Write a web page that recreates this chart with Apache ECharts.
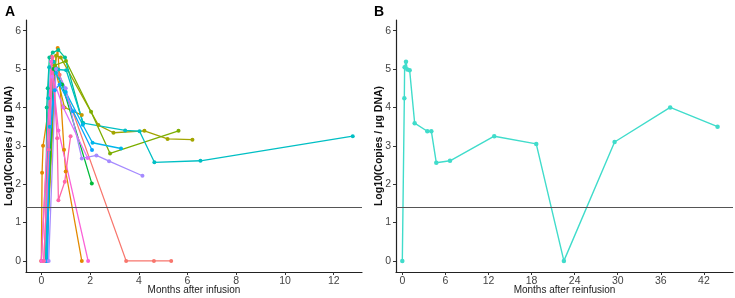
<!DOCTYPE html>
<html>
<head>
<meta charset="utf-8">
<script src="https://cdn.jsdelivr.net/npm/echarts@6/dist/echarts.min.js"></script>
<style>
html,body{margin:0;padding:0;background:#fff}
#main{width:735px;height:298px}
</style>
</head>
<body>
<div id="main"></div>
<script>
// panel A : months after infusion, log10 copies per patient
var p1 = [[0,0],[0.43,5.32],[0.75,4.85],[3.48,0],[4.62,0],[5.33,0]];
var p2 = [[0,0],[0.03,2.3],[0.07,3.0],[0.67,5.55],[0.93,2.9],[1.0,2.33],[1.66,0]];
var p3 = [[0.2,0],[0.55,5.05],[0.95,4.0],[1.66,3.8]];
var p4 = [[0.2,0],[0.6,5.35],[0.8,5.3],[2.34,3.54],[2.96,3.34],[4.23,3.39],[5.18,3.18],[6.2,3.16]];
var p5 = [[0.2,0],[0.55,5.1],[1.01,5.21],[2.04,3.89],[2.82,2.8],[5.63,3.39]];
var p6 = [[0.2,0],[0.5,5.0],[0.85,4.6],[2.07,2.02]];
var p7 = [[0.18,0],[0.22,4.0],[0.26,4.5],[0.33,5.3],[0.47,5.43],[0.7,5.5],[0.97,5.3],[1.7,3.6]];
var p8 = [[0.2,0],[0.28,4.24],[0.32,5.05],[0.51,5.19],[0.7,4.99],[1.02,4.97],[1.72,3.59],[3.44,3.4],[4.03,3.38],[4.64,2.57],[6.53,2.61],[12.78,3.25]];
var p9 = [[0.25,0],[0.35,3.5],[0.6,4.9],[1.0,4.4],[1.7,3.55],[2.1,3.08],[3.27,2.93]];
var p10 = [[0.25,0],[0.3,2.9],[0.55,4.45],[0.75,4.6],[1.3,3.9],[2.08,2.89]];
var p11 = [[0.3,0],[0.6,5.0],[1.0,4.5],[1.66,2.67],[2.26,2.75],[2.78,2.6],[4.15,2.22]];
var p12 = [[0.1,0],[0.45,4.8],[0.9,4.0],[1.9,2.68]];
var p13 = [[0,0],[0.4,5.2],[0.7,3.4],[1.92,0]];
var p14 = [[0.1,0],[0.3,2.9],[0.45,5.3],[0.65,3.2],[0.7,1.58],[0.96,2.06],[1.2,3.25]];
var patientsA = [p1,p2,p3,p4,p5,p6,p7,p8,p9,p10,p11,p12,p13,p14];

// panel B : months after reinfusion
var monthsB = [0,0.28,0.32,0.51,0.7,1.02,1.72,3.48,4.04,4.73,6.64,12.8,18.65,22.5,29.56,37.3,43.9];
var valuesB = [0,4.24,5.05,5.19,4.99,4.97,3.59,3.38,3.38,2.56,2.61,3.25,3.05,0,3.1,4.0,3.5];

var threshold = 1.4;
var ticksA = [0,2,4,6,8,10,12];
var ticksB = [0,6,12,18,24,30,36,42];
var ticksY = [0,1,2,3,4,5,6];

var colors = ["#F8766D","#E38900","#C49A00","#A3A500","#7CAE00","#00BA38","#00C094","#00BFC4","#00B6EB","#06A4FF","#A58AFF","#DF70F8","#FB61D7","#FF66A8"];

var mychart = echarts.init(document.getElementById('main'));

function xAx(idx,name,mn,mx,ticks){
	return {
		type:'value',gridIndex:idx,min:mn,max:mx,
		name:name,nameLocation:'middle',nameGap:13,nameMoveOverlap:false,
		nameTextStyle:{color:'#222',fontSize:10,fontFamily:'Liberation Sans'},
		splitLine:{show:false},
		axisLine:{onZero:false,lineStyle:{color:'#222',width:1.2}},
		axisTick:{length:3,lineStyle:{color:'#333'},customValues:ticks},
		axisLabel:{color:'#444',fontSize:10.5,margin:4,fontFamily:'Liberation Sans',customValues:ticks}
	};
}
function yAx(idx){
	return {
		type:'value',gridIndex:idx,min:-0.29,max:6.28,
		name:'Log10(Copies / μg DNA)',nameLocation:'middle',nameGap:11,nameMoveOverlap:false,
		nameTextStyle:{color:'#111',fontSize:10.5,fontWeight:'bold',fontFamily:'Liberation Sans'},
		splitLine:{show:false},
		axisLine:{show:true,onZero:false,lineStyle:{color:'#222',width:1.2}},
		axisTick:{show:true,length:3,lineStyle:{color:'#333'},customValues:ticksY},
		axisLabel:{color:'#444',fontSize:10.5,margin:5,fontFamily:'Liberation Sans',customValues:ticksY}
	};
}
var hline = {
	silent:true,symbol:'none',
	label:{show:false},
	lineStyle:{color:'#555',width:1,type:'solid'},
	data:[{yAxis:threshold}]
};

var series = [];
for(var i=0;i<patientsA.length;i++){
	var s = {
		type:'line',xAxisIndex:0,yAxisIndex:0,
		data:patientsA[i],
		symbol:'circle',symbolSize:4,
		lineStyle:{width:1.3,color:colors[i]},
		itemStyle:{color:colors[i]},
		animation:false
	};
	if(i==0) s.markLine = hline;
	series.push(s);
}
var dataB = [];
for(var j=0;j<monthsB.length;j++) dataB.push([monthsB[j],valuesB[j]]);
series.push({
	type:'line',xAxisIndex:1,yAxisIndex:1,
	data:dataB,
	symbol:'circle',symbolSize:4.5,
	lineStyle:{width:1.4,color:'#40DCCB'},
	itemStyle:{color:'#40DCCB'},
	markLine:hline,
	animation:false
});

var option = {
	animation:false,
	title:[
		{text:'A',left:0,top:0,textStyle:{fontSize:14,fontWeight:'bold',color:'#000',fontFamily:'Liberation Sans'}},
		{text:'B',left:369,top:0,textStyle:{fontSize:14,fontWeight:'bold',color:'#000',fontFamily:'Liberation Sans'}}
	],
	grid:[
		{left:26,top:20,width:336,height:252,outerBoundsMode:'none'},
		{left:396,top:20,width:337,height:252,outerBoundsMode:'none'}
	],
	xAxis:[
		xAx(0,'Months after infusion',-0.63,13.16,ticksA),
		xAx(1,'Months after reinfusion',-0.88,46.05,ticksB)
	],
	yAxis:[yAx(0),yAx(1)],
	series:series
};
mychart.setOption(option);
</script>
</body>
</html>
